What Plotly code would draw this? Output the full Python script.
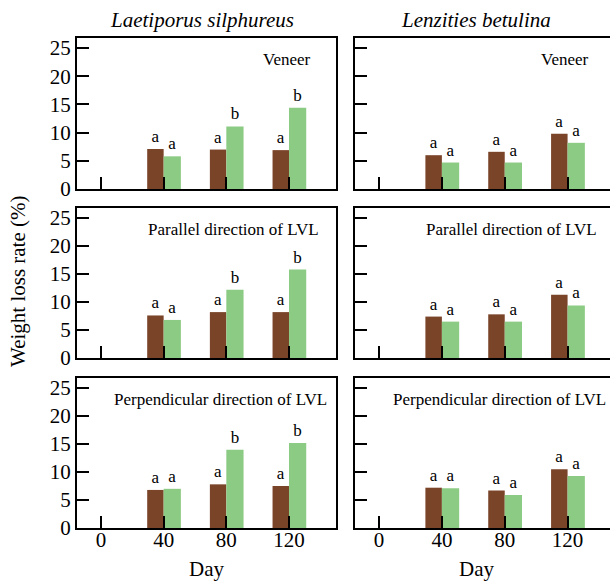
import plotly.graph_objects as go

days = [40, 80, 120]
tick_days = [0, 40, 80, 120]
tick_labels = ["0", "40", "80", "120"]

fungi = ["Laetiporus silphureus", "Lenzities betulina"]
panels = ["Veneer", "Parallel direction of LVL", "Perpendicular direction of LVL"]

# L. silphureus
ls_veneer_brown = [7.1, 7.0, 6.9]
ls_veneer_green = [5.8, 11.1, 14.4]
ls_parallel_brown = [7.6, 8.2, 8.2]
ls_parallel_green = [6.8, 12.2, 15.8]
ls_perp_brown = [6.8, 7.8, 7.5]
ls_perp_green = [7.0, 14.0, 15.2]

# L. betulina
lb_veneer_brown = [6.0, 6.6, 9.8]
lb_veneer_green = [4.7, 4.7, 8.2]
lb_parallel_brown = [7.4, 7.8, 11.3]
lb_parallel_green = [6.5, 6.5, 9.4]
lb_perp_brown = [7.2, 6.7, 10.5]
lb_perp_green = [7.1, 5.9, 9.3]

# significance letters
ls_veneer_brown_sig = ["a", "a", "a"]
ls_veneer_green_sig = ["a", "b", "b"]
ls_parallel_brown_sig = ["a", "a", "a"]
ls_parallel_green_sig = ["a", "b", "b"]
ls_perp_brown_sig = ["a", "a", "a"]
ls_perp_green_sig = ["a", "b", "b"]
lb_sig = ["a", "a", "a"]

data = {
    (0, 0): (ls_veneer_brown, ls_veneer_green, ls_veneer_brown_sig, ls_veneer_green_sig),
    (1, 0): (ls_parallel_brown, ls_parallel_green, ls_parallel_brown_sig, ls_parallel_green_sig),
    (2, 0): (ls_perp_brown, ls_perp_green, ls_perp_brown_sig, ls_perp_green_sig),
    (0, 1): (lb_veneer_brown, lb_veneer_green, lb_sig, lb_sig),
    (1, 1): (lb_parallel_brown, lb_parallel_green, lb_sig, lb_sig),
    (2, 1): (lb_perp_brown, lb_perp_green, lb_sig, lb_sig),
}

BROWN = "#7A4429"
GREEN = "#8CCB83"
FONT = "Liberation Serif"
W, H = 610, 581

xdom = [[77 / W, 336 / W], [355 / W, 1.0]]
xrng = [[-15.3, 150], [-15.3, 147]]
ypix = [(38, 189), (208, 358), (378, 528)]
ydom = [[1 - b / H, 1 - t / H] for t, b in ypix]
label_x = [118.5, 84.5, 76.5]

fig = go.Figure()
layout = {}
annotations = []
for r in range(3):
    for c in range(2):
        idx = r * 2 + c + 1
        xa = "x" if idx == 1 else f"x{idx}"
        ya = "y" if idx == 1 else f"y{idx}"
        brown, green, bsig, gsig = data[(r, c)]
        fig.add_trace(go.Bar(x=days, y=brown, width=10.5, offset=-10.5,
                             marker=dict(color=BROWN, line=dict(width=0)),
                             text=bsig, textposition="outside", constraintext="none",
                             textfont=dict(family=FONT, size=17, color="black"),
                             cliponaxis=False, xaxis=xa, yaxis=ya, showlegend=False))
        fig.add_trace(go.Bar(x=days, y=green, width=11, offset=0,
                             marker=dict(color=GREEN, line=dict(width=0)),
                             text=gsig, textposition="outside", constraintext="none",
                             textfont=dict(family=FONT, size=17, color="black"),
                             cliponaxis=False, xaxis=xa, yaxis=ya, showlegend=False))
        xkey = "xaxis" if idx == 1 else f"xaxis{idx}"
        ykey = "yaxis" if idx == 1 else f"yaxis{idx}"
        layout[xkey] = dict(domain=xdom[c], range=xrng[c], anchor=ya,
                            tickvals=tick_days, ticktext=tick_labels,
                            showticklabels=(r == 2), ticks="inside", ticklen=12,
                            tickwidth=2, tickcolor="black", showline=True,
                            linewidth=2, linecolor="black", mirror=True,
                            showgrid=False, zeroline=False, automargin=False,
                            ticklabelstandoff=-8,
                            tickfont=dict(family=FONT, size=21, color="black"))
        layout[ykey] = dict(domain=ydom[r], range=[0, 26.8], anchor=xa,
                            tickvals=[0, 5, 10, 15, 20, 25],
                            showticklabels=(c == 0), ticks="inside", ticklen=12,
                            tickwidth=2, tickcolor="black", showline=True,
                            linewidth=2, linecolor="black", mirror=(c == 0),
                            showgrid=False, zeroline=False, automargin=False,
                            tickfont=dict(family=FONT, size=21, color="black"))
        annotations.append(dict(x=label_x[r], y=1, xref=xa, yref=f"{ya} domain",
                                yshift=-21, text=panels[r], showarrow=False,
                                xanchor="center", yanchor="middle",
                                font=dict(family=FONT, size=17, color="black")))

# column titles
annotations.append(dict(x=202 / W, y=1 - 20 / H, xref="paper", yref="paper",
                        text="<i>" + fungi[0] + "</i>", showarrow=False,
                        xanchor="center", yanchor="middle",
                        font=dict(family=FONT, size=21, color="black")))
annotations.append(dict(x=476 / W, y=1 - 20 / H, xref="paper", yref="paper",
                        text="<i>" + fungi[1] + "</i>", showarrow=False,
                        xanchor="center", yanchor="middle",
                        font=dict(family=FONT, size=21, color="black")))
# y title
annotations.append(dict(x=18 / W, y=1 - 281 / H, xref="paper", yref="paper",
                        text="Weight loss rate (%)", textangle=-90, showarrow=False,
                        xanchor="center", yanchor="middle",
                        font=dict(family=FONT, size=21, color="black")))
# x titles
for cx in [206, 476]:
    annotations.append(dict(x=cx / W, y=1 - 569 / H, xref="paper", yref="paper",
                            text="Day", showarrow=False,
                            xanchor="center", yanchor="middle",
                            font=dict(family=FONT, size=21, color="black")))

fig.update_layout(**layout)
fig.update_layout(width=W, height=H,
                  margin=dict(l=0, r=0, t=0, b=0, pad=0, autoexpand=False),
                  paper_bgcolor="white", plot_bgcolor="white",
                  barmode="overlay", annotations=annotations, showlegend=False,
                  font=dict(family=FONT, color="black"))
fig.write_html(
    "out.html",
    config={"displayModeBar": False},
    post_script=(
        "document.body.style.margin='0px';"
        "document.body.style.height='581px';"
        "document.body.style.overflow='hidden';"
        "document.documentElement.style.overflow='hidden';"
        "document.documentElement.style.height='581px';"
    ),
)
